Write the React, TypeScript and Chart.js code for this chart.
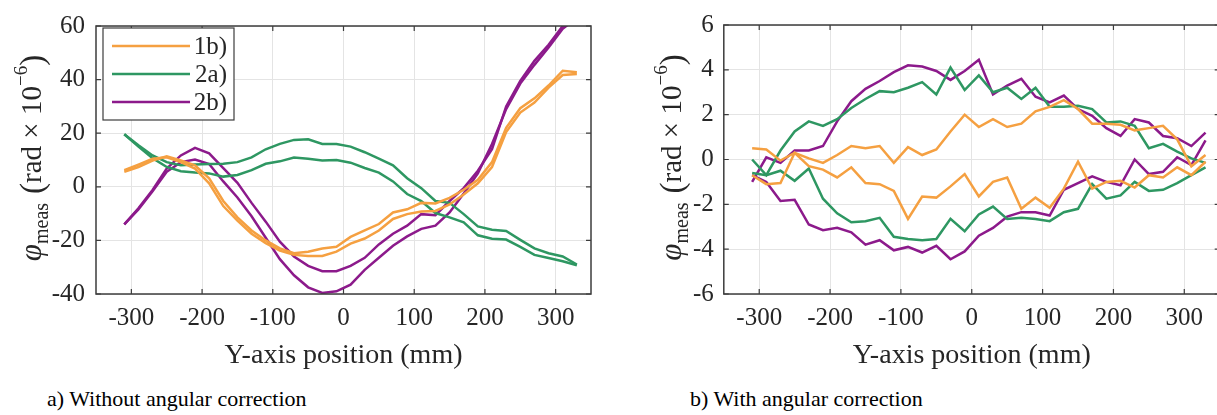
import React, { useEffect, useRef } from 'react';
import { Chart, registerables } from 'chart.js';

Chart.register(...registerables);

const FONT = "'Liberation Serif', 'Times New Roman', Times, serif";

// ---------- data ----------
const positions = [
  -310, -290, -270, -250, -230, -210, -190, -170, -150, -130, -110, -90, -70, -50, -30, -10,
  10, 30, 50, 70, 90, 110, 130, 150, 170, 190, 210, 230, 250, 270, 290, 310, 330,
];

const xTickValues = [-300, -200, -100, 0, 100, 200, 300];
const leftYTickValues = [-40, -20, 0, 20, 40, 60];
const rightYTickValues = [-6, -4, -2, 0, 2, 4, 6];

const seriesLabels = ['1b)', '2a)', '2b)'];

// a) Without angular correction
const noCorr1bA = [5.6, 7.4, 9.8, 11.4, 9.8, 8.0, 3.2, -5.3, -11.4, -16.3, -20.0, -23.0, -24.8, -24.2, -23.0, -22.4,
  -18.7, -16.3, -13.9, -9.6, -8.4, -6.0, -6.2, -4.1, -1.1, 2.6, 9.2, 22.0, 29.3, 33.0, 37.8, 43.3, 42.7];
const noCorr1bB = [6.2, 8.3, 10.5, 11.0, 9.2, 6.8, 1.3, -7.2, -12.6, -17.5, -21.0, -23.8, -25.4, -25.8, -25.8, -24.2,
  -21.2, -19.3, -16.3, -12.0, -10.2, -9.2, -9.0, -6.6, -2.9, 1.3, 7.4, 20.4, 27.7, 31.4, 37.0, 41.7, 42.1];
const noCorr2aA = [19.6, 15.5, 11.7, 9.2, 8.0, 8.3, 8.5, 8.6, 9.2, 11.0, 14.0, 16.0, 17.5, 17.7, 16.0, 16.0,
  15.0, 12.9, 10.5, 8.0, 3.2, -0.5, -5.3, -6.0, -10.2, -14.8, -16.0, -16.5, -19.8, -23.0, -24.8, -26.0, -29.0];
const noCorr2aB = [19.6, 15.0, 10.7, 7.4, 5.8, 5.3, 5.0, 3.8, 4.4, 6.2, 8.6, 9.5, 10.9, 10.5, 9.8, 10.0,
  9.0, 7.0, 5.3, 2.0, -2.7, -5.3, -9.8, -11.4, -13.3, -18.1, -19.4, -19.7, -22.4, -25.4, -26.6, -27.8, -29.3];
const noCorr2bA = [-14.0, -8.4, -1.7, 5.6, 9.2, 10.2, 8.5, 2.0, -4.0, -11.0, -19.0, -27.0, -33.0, -37.5, -39.6, -39.0,
  -36.5, -31.0, -26.5, -22.0, -18.5, -15.7, -14.5, -9.6, -2.5, 5.0, 16.0, 29.0, 38.5, 45.5, 52.0, 59.0, 63.0];
const noCorr2bB = [-14.0, -8.0, -1.2, 6.8, 11.7, 14.5, 12.5, 7.0, 1.5, -6.0, -13.0, -20.5, -26.0, -29.5, -31.5, -31.5,
  -29.5, -26.5, -21.5, -17.5, -14.5, -10.2, -10.6, -5.3, -0.5, 6.0, 14.0, 30.0, 39.5, 47.0, 53.0, 60.0, 64.0];

// b) With angular correction
const corr1bA = [0.5, 0.45, -0.05, 0.3, 0.05, -0.15, 0.2, 0.6, 0.5, 0.6, -0.15, 0.55, 0.2, 0.45, 1.25, 2.0,
  1.45, 1.8, 1.45, 1.6, 2.15, 2.35, 2.65, 2.25, 1.6, 1.6, 1.55, 1.3, 1.4, 1.5, 0.9, -0.3, 0.2];
const corr1bB = [-0.7, -1.1, -1.05, 0.3, -0.3, -0.45, -0.8, -0.35, -1.05, -1.1, -1.4, -2.65, -1.65, -1.7, -1.2, -0.65,
  -1.65, -1.0, -0.8, -2.2, -1.7, -2.15, -1.3, -0.1, -1.3, -1.0, -0.95, -1.25, -0.7, -0.8, -0.35, -0.7, -0.1];
const corr2aA = [0.0, -0.7, 0.4, 1.25, 1.7, 1.5, 1.8, 2.3, 2.7, 3.05, 3.0, 3.2, 3.45, 2.9, 4.1, 3.1,
  3.75, 3.0, 3.2, 2.7, 3.2, 2.35, 2.35, 2.4, 2.25, 1.65, 1.7, 1.5, 0.5, 0.7, 0.35, 0.05, -0.15];
const corr2aB = [-0.6, -0.7, -0.5, -0.95, -0.4, -1.75, -2.4, -2.8, -2.75, -2.6, -3.45, -3.55, -3.6, -3.55, -2.65, -3.2,
  -2.45, -2.1, -2.65, -2.6, -2.65, -2.75, -2.35, -2.2, -1.1, -1.75, -1.6, -1.0, -1.4, -1.35, -1.05, -0.7, -0.35];
const corr2bA = [-1.0, 0.1, -0.15, 0.4, 0.4, 0.6, 1.7, 2.6, 3.15, 3.5, 3.9, 4.2, 4.15, 3.95, 3.55, 3.95,
  4.45, 2.9, 3.3, 3.6, 2.8, 2.55, 2.85, 2.25, 1.95, 1.4, 1.05, 1.8, 1.65, 1.05, 0.95, 0.6, 1.2];
const corr2bB = [-0.7, -1.0, -1.85, -1.8, -2.9, -3.15, -3.05, -3.25, -3.8, -3.6, -4.05, -3.9, -4.15, -3.85, -4.45, -4.1,
  -3.4, -3.05, -2.55, -2.35, -2.35, -2.5, -1.35, -1.05, -0.75, -1.0, -1.15, 0.0, -0.65, -0.55, 0.1, -0.25, 0.85];

const xTitle = 'Y-axis position (mm)';
const captionA = 'a) Without angular correction';
const captionB = 'b) With angular correction';

// ---------- style ----------
const COLORS = ['#F5A041', '#2E9762', '#8C1A8B'];
const TEXT = '#262626';
const GRID = '#e4e4e4';
const FRAME = '#3c3c3c';

const framePlugin = {
  id: 'frame',
  afterDraw(chart: any) {
    const { ctx, chartArea: a, scales } = chart;
    ctx.save();
    ctx.strokeStyle = FRAME;
    ctx.lineWidth = 1.5;
    ctx.strokeRect(a.left, a.top, a.right - a.left, a.bottom - a.top);
    ctx.lineWidth = 1.2;
    const tl = 5;
    ctx.beginPath();
    scales.x.ticks.forEach((t: any) => {
      const px = scales.x.getPixelForValue(t.value);
      ctx.moveTo(px, a.bottom);
      ctx.lineTo(px, a.bottom - tl);
      ctx.moveTo(px, a.top);
      ctx.lineTo(px, a.top + tl);
    });
    scales.y.ticks.forEach((t: any) => {
      const py = scales.y.getPixelForValue(t.value);
      ctx.moveTo(a.left, py);
      ctx.lineTo(a.left + tl, py);
      ctx.moveTo(a.right, py);
      ctx.lineTo(a.right - tl, py);
    });
    ctx.stroke();
    ctx.restore();
  },
};

const yTitlePlugin = {
  id: 'ytitle',
  afterDraw(chart: any, _args: any, opts: any) {
    const { ctx, chartArea: a } = chart;
    const cy = (a.top + a.bottom) / 2 - 2;
    const parts = [
      { t: '\u03C6', size: 31, italic: true, dy: 0 },
      { t: 'meas', size: 20, dy: 7 },
      { gap: 9 },
      { t: '(', size: 33, dy: 2 },
      { t: 'rad \u00D7 10', size: 29, dy: 0 },
      { t: '\u22126', size: 19, dy: -14 },
      { t: ')', size: 33, dy: 2 },
    ] as any[];
    ctx.save();
    ctx.translate(opts.x, cy);
    ctx.rotate(-Math.PI / 2);
    ctx.fillStyle = TEXT;
    ctx.textBaseline = 'alphabetic';
    ctx.textAlign = 'left';
    let total = 0;
    const widths = parts.map((p) => {
      if (p.gap) return p.gap;
      ctx.font = `${p.italic ? 'italic ' : ''}${p.size}px ${FONT}`;
      return ctx.measureText(p.t).width;
    });
    widths.forEach((w) => (total += w));
    let x = -total / 2;
    parts.forEach((p, i) => {
      if (!p.gap) {
        ctx.font = `${p.italic ? 'italic ' : ''}${p.size}px ${FONT}`;
        ctx.fillText(p.t, x, p.dy);
      }
      x += widths[i];
    });
    ctx.restore();
  },
};

const legendPlugin = {
  id: 'boxlegend',
  afterDraw(chart: any, _args: any, opts: any) {
    if (!opts || !opts.show) return;
    const { ctx } = chart;
    const bx = 103, by = 28, bw = 131, bh = 92;
    ctx.save();
    ctx.fillStyle = '#ffffff';
    ctx.fillRect(bx, by, bw, bh);
    ctx.strokeStyle = FRAME;
    ctx.lineWidth = 1.2;
    ctx.strokeRect(bx, by, bw, bh);
    const entries = chart.data.datasets.filter((d: any) => d.legend);
    entries.forEach((d: any, i: number) => {
      const y = 46 + i * 28;
      ctx.strokeStyle = d.borderColor;
      ctx.lineWidth = 2.5;
      ctx.beginPath();
      ctx.moveTo(112, y);
      ctx.lineTo(190, y);
      ctx.stroke();
      ctx.fillStyle = TEXT;
      ctx.font = `25px ${FONT}`;
      ctx.textAlign = 'right';
      ctx.textBaseline = 'middle';
      ctx.fillText(d.label, 227, y + 1);
    });
    ctx.restore();
  },
};

function makeDatasets(pairs: number[][][]) {
  const ds: any[] = [];
  pairs.forEach((pair, si) => {
    pair.forEach((vals, k) => {
      ds.push({
        label: seriesLabels[si],
        legend: k === 0,
        data: positions.map((p, i) => ({ x: p, y: vals[i] })),
        borderColor: COLORS[si],
        backgroundColor: COLORS[si],
        borderWidth: 2.5,
        pointRadius: 0,
        tension: 0,
        fill: false,
      });
    });
  });
  return ds;
}

type PanelProps = {
  width: number;
  height: number;
  plotLeft: number;
  plotRight: number;
  plotTop: number;
  plotBottom: number;
  yMin: number;
  yMax: number;
  yTicks: number[];
  yTickPad: number;
  titleX: number;
  pairs: number[][][];
  legend: boolean;
};

function Panel(props: PanelProps) {
  const ref = useRef<HTMLCanvasElement | null>(null);
  useEffect(() => {
    if (!ref.current) return;
    const p = props;
    const chart = new Chart(ref.current, {
      type: 'line',
      data: { datasets: makeDatasets(p.pairs) },
      options: {
        animation: false,
        responsive: false,
        devicePixelRatio: 1,
        layout: { padding: { top: p.plotTop, left: 0, right: p.width - p.plotRight, bottom: 0 } },
        plugins: {
          legend: { display: false },
          tooltip: { enabled: false },
          ytitle: { x: p.titleX },
          boxlegend: { show: p.legend },
        } as any,
        scales: {
          x: {
            type: 'linear',
            min: -350,
            max: 350,
            afterBuildTicks: (s: any) => {
              s.ticks = xTickValues.map((v) => ({ value: v }));
            },
            afterFit: (s: any) => {
              s.height = p.height - p.plotBottom;
            },
            ticks: {
              font: { size: 25, family: FONT },
              color: TEXT,
              padding: 9,
              maxRotation: 0,
              autoSkip: false,
            },
            grid: { color: GRID, lineWidth: 1, drawTicks: false },
            border: { display: false },
            title: {
              display: true,
              text: xTitle,
              font: { size: 28, family: FONT },
              color: TEXT,
              padding: { top: 0, bottom: 8 },
            },
          },
          y: {
            type: 'linear',
            min: p.yMin,
            max: p.yMax,
            afterBuildTicks: (s: any) => {
              s.ticks = p.yTicks.map((v) => ({ value: v }));
            },
            afterFit: (s: any) => {
              s.width = p.plotLeft;
            },
            ticks: {
              font: { size: 25, family: FONT },
              color: TEXT,
              padding: p.yTickPad,
            },
            grid: { color: GRID, lineWidth: 1, drawTicks: false },
            border: { display: false },
          },
        },
      } as any,
      plugins: [framePlugin, yTitlePlugin, legendPlugin] as any,
    });
    return () => chart.destroy();
  }, []);
  return <canvas ref={ref} width={props.width} height={props.height} style={{ display: 'block' }} />;
}

export default function App() {
  return (
    <div
      style={{
        position: 'fixed',
        left: 0,
        top: 0,
        width: 1217,
        height: 415,
        overflow: 'hidden',
        background: '#ffffff',
        fontFamily: FONT,
        color: '#000',
      }}
    >
      <div style={{ position: 'absolute', left: 0, top: 0 }}>
        <Panel
          width={610}
          height={380}
          plotLeft={96}
          plotRight={591}
          plotTop={21}
          plotBottom={294}
          yMin={-40}
          yMax={60}
          yTicks={leftYTickValues}
          yTickPad={11}
          titleX={41}
          pairs={[[noCorr1bA, noCorr1bB], [noCorr2aA, noCorr2aB], [noCorr2bA, noCorr2bB]]}
          legend={true}
        />
      </div>
      <div style={{ position: 'absolute', left: 640, top: 0 }}>
        <Panel
          width={600}
          height={380}
          plotLeft={83.8}
          plotRight={579.7}
          plotTop={21}
          plotBottom={294}
          yMin={-6}
          yMax={6}
          yTicks={rightYTickValues}
          yTickPad={10}
          titleX={41}
          pairs={[[corr1bA, corr1bB], [corr2aA, corr2aB], [corr2bA, corr2bB]]}
          legend={false}
        />
      </div>
      <div style={{ position: 'absolute', left: 47, top: 388, fontSize: 22, lineHeight: '22px', whiteSpace: 'nowrap' }}>
        {captionA}
      </div>
      <div style={{ position: 'absolute', left: 690, top: 388, fontSize: 22, lineHeight: '22px', whiteSpace: 'nowrap' }}>
        {captionB}
      </div>
    </div>
  );
}
